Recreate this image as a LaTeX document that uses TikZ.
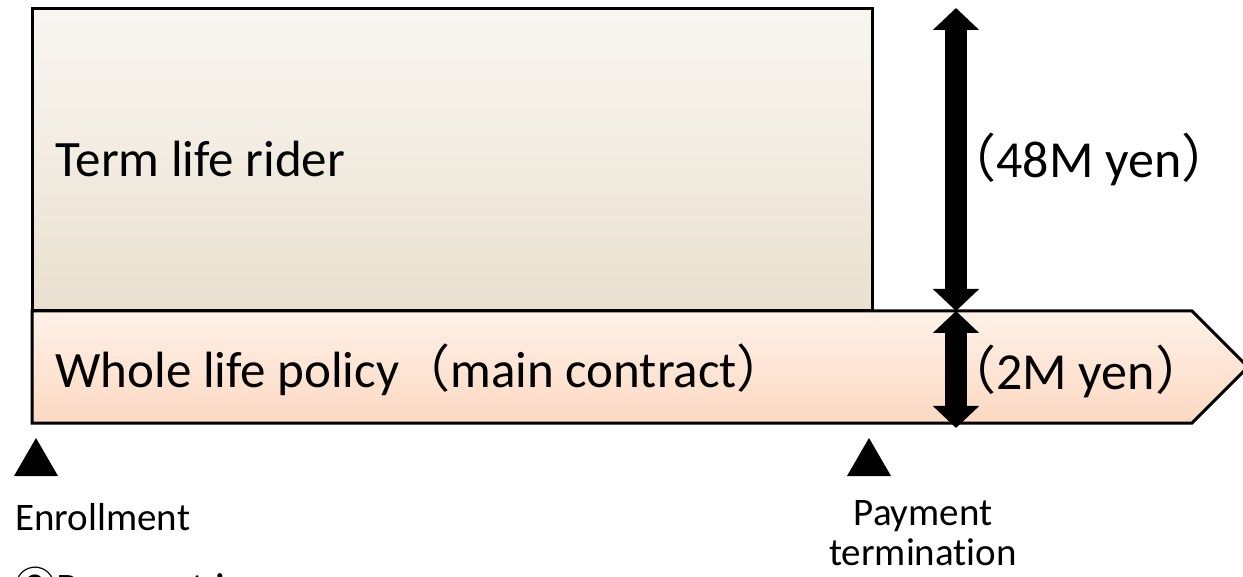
\documentclass[tikz,border=0pt]{standalone}
\usepackage{fontspec}
\setmainfont{Carlito}[Ligatures=NoCommon]
\newfontfamily\jpfont{Noto Sans CJK JP}
\usetikzlibrary{arrows.meta}

\definecolor{riderTop}{RGB}{249,246,241}
\definecolor{riderBot}{RGB}{234,224,208}
\definecolor{wholeTop}{RGB}{255,241,232}
\definecolor{wholeBot}{RGB}{252,217,194}

\newcommand{\lp}{{\jpfont （}}
\newcommand{\rp}{{\jpfont ）}}

\begin{document}
\begin{tikzpicture}[x=0.5pt,y=-0.5pt,
  box/.style={draw=black, line width=1.5pt, line join=miter},
  biglbl/.style={inner sep=0pt, font=\fontsize{25.5}{30}\selectfont},
  amtlbl/.style={inner sep=0pt, font=\fontsize{26}{31}\selectfont},
  smalllbl/.style={inner sep=0pt, align=center, font=\fontsize{19.5}{20}\selectfont},
  dimarrow/.style={line width=11pt,
    {Triangle[length=11pt,width=22.5pt]}-{Triangle[length=11pt,width=22.5pt]}},
  tri/.style={fill=black}
]
\useasboundingbox (0,0) rectangle (1243,577);

% term life rider block
\path[box, top color=riderTop, bottom color=riderBot] (32,9) rectangle (872,311);
\node[biglbl, anchor=base west] (rider) at (55,177) {Term life rider};

% whole life policy band, ending in an arrow point
\path[box, top color=wholeTop, bottom color=wholeBot]
  (32,311) -- (1192,311) -- (1248,367) -- (1192,423) -- (32,423) -- cycle;
\node[biglbl, anchor=base west] (whole) at (55,387) {Whole life policy\lp main contract\rp};

% coverage amounts
\coordinate (top) at (956,8);
\coordinate (mid) at (956,311);
\coordinate (bot) at (956,428);
\draw[dimarrow] (top) -- (mid);
\draw[dimarrow] (mid) -- (bot);
\node[amtlbl, anchor=base west] (amt48) at (944,178) {\lp 48M yen\rp};
\node[amtlbl, anchor=base west] (amt2) at (944,389) {\lp 2M yen\rp};

% time markers
\fill[tri] (14,476) -- (36,438) -- (58,476) -- cycle;
\fill[tri] (847,476) -- (869,438) -- (891,476) -- cycle;
\node[smalllbl, anchor=base west] (enroll) at (15,530) {Enrollment};
\node[smalllbl, anchor=base] (payend) at (923,565) {Payment\\termination};

% legend line below, running off the lower edge
\node[inner sep=0pt, anchor=base west, font=\fontsize{21}{25}\selectfont] (legend) at (14,602)
  {{\jpfont ②}Payment in yen};
\end{tikzpicture}
\end{document}
